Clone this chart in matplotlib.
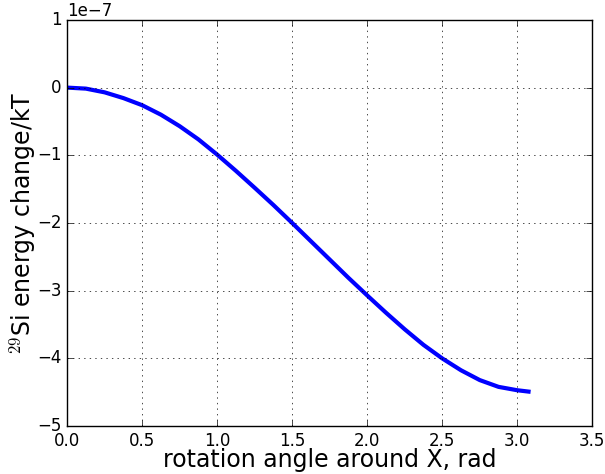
import numpy as np
import matplotlib.pyplot as plt

# rotation angle (rad) and energy change (units of 1e-7 kT)
angle = [0.0, 0.125, 0.25, 0.375, 0.5, 0.625, 0.75, 0.875, 1.0, 1.125, 1.25, 1.375,
         1.5, 1.625, 1.75, 1.875, 2.0, 2.125, 2.25, 2.375, 2.5, 2.625, 2.75,
         2.875, 3.0, 3.075]
energy = [0.0, -0.015, -0.07, -0.155, -0.26, -0.40, -0.57, -0.765, -0.99, -1.23,
          -1.48, -1.735, -2.00, -2.27, -2.54, -2.81, -3.07, -3.325, -3.57, -3.80,
          -4.00, -4.175, -4.32, -4.42, -4.47, -4.49]

plt.style.use('classic')
plt.rcParams['figure.facecolor'] = 'white'

fig = plt.figure(figsize=(6.05, 4.74), dpi=100)
ax = fig.add_axes([0.111, 0.101, 0.868, 0.857])
ax.plot(angle, np.array(energy) * 1e-7, color='blue', linewidth=3)
ax.set_xlim(0, 3.5)
ax.set_ylim(-5e-7, 1e-7)
ax.grid(True)
ax.tick_params(labelsize=12)
ax.yaxis.get_offset_text().set_fontsize(12)
ax.set_xlabel('rotation angle around X, rad', fontsize=17, labelpad=-1)
ax.set_ylabel('$^{29}$Si energy change/kT', fontsize=17, labelpad=-1)
fig.savefig('out.png', dpi=100)
